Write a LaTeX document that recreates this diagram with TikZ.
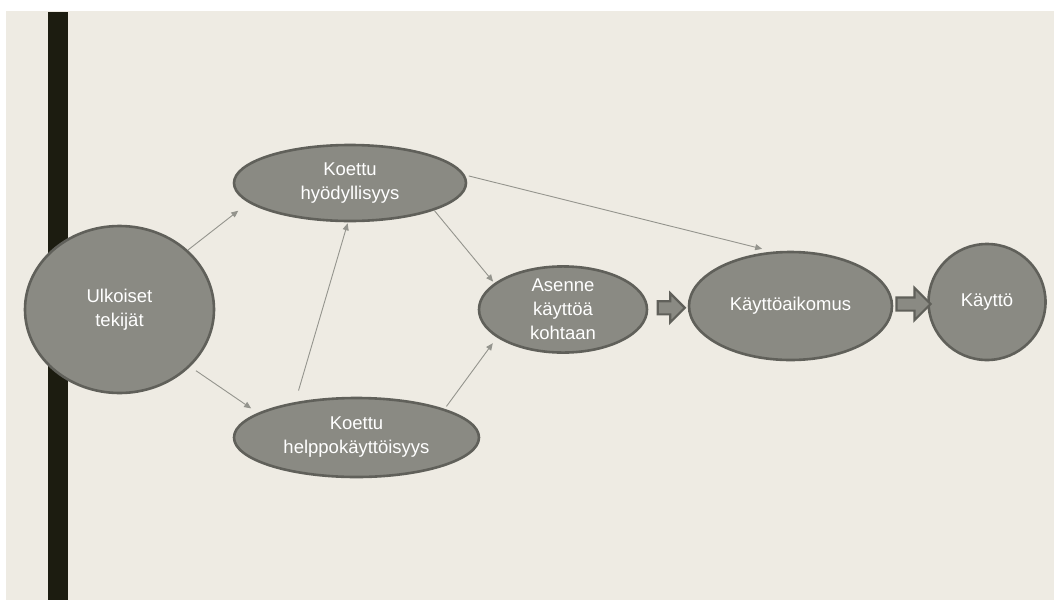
\documentclass[tikz,border=0pt]{standalone}
\usepackage{fontspec}
\setmainfont{Liberation Sans}
\usepackage{tikz}
\usetikzlibrary{arrows.meta,%
                shapes,calc}

\definecolor{paper}{HTML}{EEEBE3}
\definecolor{bar}{HTML}{1C1C10}
\definecolor{bubble}{HTML}{8A8A83}
\definecolor{rim}{HTML}{60605A}
\definecolor{wire}{HTML}{94948D}

\begin{document}
\begin{tikzpicture}[x=1pt,y=-1pt,
  factor/.style={ellipse,fill=bubble,draw=rim,line width=2.6pt,inner sep=0pt,
    text=white,align=center,font=\fontsize{18.5}{24}\selectfont},
  link/.style={draw=wire,line width=0.9pt,-{Triangle[length=7pt,width=6pt]}},
  bigarrow/.style={single arrow,fill=bubble,draw=rim,line width=2.2pt,inner sep=0pt,
    text height=11pt,text depth=0pt,minimum width=0pt}]
\useasboundingbox (0,0) rectangle (1054,600);
\fill[white] (0,0) rectangle (1054,600);
\fill[paper] (6,11) rectangle (1054,600);
\fill[bar] (48,12) rectangle (68,600);
% nodes
\node[factor,minimum width=189pt,minimum height=167pt] (ulk) at (119.5,309.5) {Ulkoiset\\tekijät};
\node[factor,minimum width=232pt,minimum height=76pt] (hyod) at (350,183) {Koettu\\hyödyllisyys};
\node[factor,minimum width=245pt,minimum height=79pt] (helppo) at (356.5,437.5) {Koettu\\helppokäyttöisyys};
\node[factor,minimum width=168pt,minimum height=79pt] (asenne) at (563,309.5) {Asenne\\käyttöä\\kohtaan};
\node[factor,minimum width=203pt,minimum height=108pt] (aikomus) at (790.5,306) {Käyttöaikomus};
\node[factor,minimum width=117pt,minimum height=116pt] (kaytto) at (987,302) {Käyttö};
% thin arrows
\draw[link,shorten >=13pt] (ulk.41) -- (hyod.191);
\draw[link,shorten <=7pt,shorten >=8pt] (ulk.321) -- (helppo.166);
\draw[link,shorten <=12pt,shorten >=1pt] (helppo.150) -- (hyod.267);
\draw[link,shorten >=2pt] (hyod.342) -- (asenne.159);
\draw[link,shorten <=3pt,shorten >=7pt] (helppo.18) -- (asenne.203);
\draw[link,shorten <=4pt,shorten >=11pt] (hyod.4.6) -- (aikomus.108.5);
% block arrows
\node[bigarrow,minimum height=27pt,single arrow head extend=8pt] (ba1) at ($(asenne.east)!0.5!(aikomus.west)$) {};
\node[bigarrow,minimum height=34pt,single arrow head extend=9.5pt] (ba2) at ($(aikomus.east)!0.5!(kaytto.west)$) {};
\end{tikzpicture}
\end{document}
